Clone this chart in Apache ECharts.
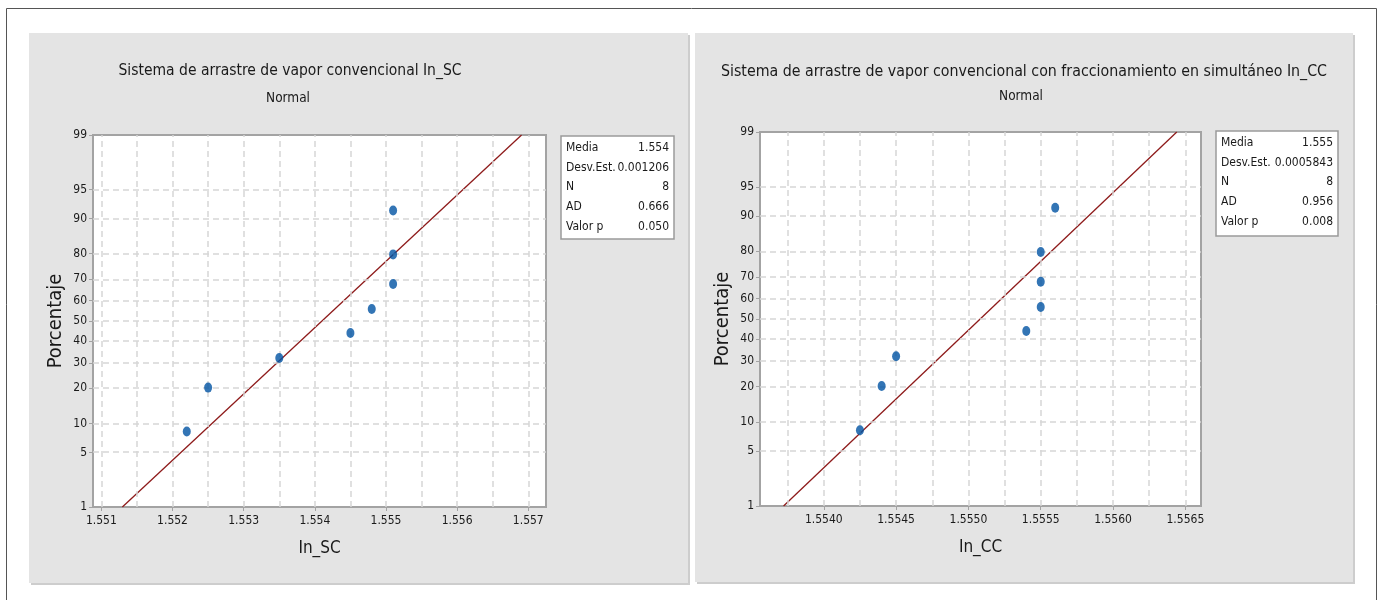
<!DOCTYPE html>
<html><head><meta charset="utf-8">
<script src="https://cdn.jsdelivr.net/npm/echarts@6/dist/echarts.min.js"></script>
<style>html,body{margin:0;padding:0;background:#fff}#c{width:1386px;height:600px}</style>
</head><body><div id="c"></div>
<script>
// ---- data ----
const scValues = [1.5522, 1.5525, 1.5535, 1.5545, 1.5548, 1.5551, 1.5551, 1.5551];
const ccValues = [1.55425, 1.5544, 1.5545, 1.5554, 1.5555, 1.5555, 1.5555, 1.5556];
const pctTicks = [1, 5, 10, 20, 30, 40, 50, 60, 70, 80, 90, 95, 99];
const scTickLabels = [1.551, 1.552, 1.553, 1.554, 1.555, 1.556, 1.557];
const scGridX = [1.551, 1.5515, 1.552, 1.5525, 1.553, 1.5535, 1.554, 1.5545, 1.555, 1.5555, 1.556, 1.5565, 1.557];
const ccTickLabels = [1.5540, 1.5545, 1.5550, 1.5555, 1.5560, 1.5565];
const ccGridX = [1.55375, 1.5540, 1.55425, 1.5545, 1.55475, 1.5550, 1.55525, 1.5555, 1.55575, 1.5560, 1.55625, 1.5565];
const scStatLabels = ['Media', 'Desv.Est.', 'N', 'AD', 'Valor p'];
const scStatValues = ['1.554', '0.001206', '8', '0.666', '0.050'];
const ccStatLabels = ['Media', 'Desv.Est.', 'N', 'AD', 'Valor p'];
const ccStatValues = ['1.555', '0.0005843', '8', '0.956', '0.008'];
const scTitle = 'Sistema de arrastre de vapor convencional In_SC';
const ccTitle = 'Sistema de arrastre de vapor convencional con fraccionamiento en simultáneo In_CC';
const subTitle = 'Normal';
const yName = 'Porcentaje';

// ---- helpers ----
function qnorm(p) {
  const a = [-3.969683028665376e+01, 2.209460984245205e+02, -2.759285104469687e+02, 1.383577518672690e+02, -3.066479806614716e+01, 2.506628277459239e+00];
  const b = [-5.447609879822406e+01, 1.615858368580409e+02, -1.556989798598866e+02, 6.680131188771972e+01, -1.328068155288572e+01];
  const c = [-7.784894002430293e-03, -3.223964580411365e-01, -2.400758277161838e+00, -2.549732539343734e+00, 4.374664141464968e+00, 2.938163982698783e+00];
  const d = [7.784695709041462e-03, 3.224671290700398e-01, 2.445134137142996e+00, 3.754408661907416e+00];
  const pl = 0.02425, ph = 1 - pl;
  let q, r;
  if (p < pl) { q = Math.sqrt(-2 * Math.log(p)); return (((((c[0]*q+c[1])*q+c[2])*q+c[3])*q+c[4])*q+c[5]) / ((((d[0]*q+d[1])*q+d[2])*q+d[3])*q+1); }
  if (p <= ph) { q = p - 0.5; r = q*q; return (((((a[0]*r+a[1])*r+a[2])*r+a[3])*r+a[4])*r+a[5])*q / (((((b[0]*r+b[1])*r+b[2])*r+b[3])*r+b[4])*r+1); }
  q = Math.sqrt(-2 * Math.log(1 - p)); return -(((((c[0]*q+c[1])*q+c[2])*q+c[3])*q+c[4])*q+c[5]) / ((((d[0]*q+d[1])*q+d[2])*q+d[3])*q+1);
}
const zTicks = pctTicks.map(p => qnorm(p / 100));
const zMin = zTicks[0], zMax = zTicks[zTicks.length - 1];
function pctLabel(v) {
  let best = 0, bd = Infinity;
  zTicks.forEach((z, i) => { const dd = Math.abs(z - v); if (dd < bd) { bd = dd; best = i; } });
  return String(pctTicks[best]);
}
function probPoints(vals) {
  const s = vals.slice().sort((a, b) => a - b), n = s.length;
  return s.map((v, i) => [v, qnorm((i + 1 - 0.3) / (n + 0.4))]);
}
function fitLine(vals) {
  const n = vals.length, m = vals.reduce((a, b) => a + b, 0) / n;
  const sd = Math.sqrt(vals.reduce((a, b) => a + (b - m) * (b - m), 0) / (n - 1));
  return [[m + sd * zMin, zMin], [m + sd * zMax, zMax]];
}

const FONT = "'DejaVu Sans Condensed','Open Sans',sans-serif";
const TXT = '#1a1a1a';
const FRAME = '#a3a3a3';
const GRIDC = '#d6d6d6';

function gridLines(xs) {
  const vert = xs.map(v => [{ coord: [v, zMin] }, { coord: [v, zMax] }]);
  return {
    silent: true, symbol: ['none', 'none'], animation: false,
    lineStyle: { type: [6, 4], color: GRIDC, width: 1.5 },
    label: { show: false },
    emphasis: { disabled: true },
    data: zTicks.slice(1, -1).map(v => ({ yAxis: v })).concat(vert)
  };
}

function xAxisCfg(gi, min, max, labels, name, dec) {
  return {
    gridIndex: gi, type: 'value', min: min, max: max,
    name: name, nameLocation: 'middle', nameGap: 33,
    nameTextStyle: { fontFamily: FONT, fontSize: 17, color: TXT },
    axisLine: { show: true, onZero: false, lineStyle: { color: FRAME, width: 2 } },
    axisTick: { show: true, customValues: labels, length: 4, lineStyle: { color: FRAME } },
    axisLabel: { customValues: labels, formatter: v => v.toFixed(dec), fontFamily: FONT, fontSize: 12, color: TXT, margin: 8 },
    splitLine: { show: false }
  };
}
function yAxisCfg(gi) {
  return {
    gridIndex: gi, type: 'value', min: zMin, max: zMax,
    name: yName, nameLocation: 'middle', nameGap: 27,
    nameTextStyle: { fontFamily: FONT, fontSize: 20, color: TXT },
    axisLine: { show: true, onZero: false, lineStyle: { color: FRAME, width: 2 } },
    axisTick: { show: true, customValues: zTicks, length: 4, lineStyle: { color: FRAME } },
    axisLabel: { customValues: zTicks, formatter: pctLabel, fontFamily: FONT, fontSize: 12, color: TXT, margin: 6 },
    splitLine: { show: false }
  };
}

function statsBox(x, y, w, h, labels, values, pitch) {
  const children = [{ type: 'rect', shape: { x: x, y: y, width: w, height: h }, style: { fill: '#fff', stroke: '#9a9a9a', lineWidth: 1.5 } }];
  labels.forEach((l, i) => {
    children.push({ type: 'text', x: x + 5, y: y + 12 + i * pitch, style: { text: l, fontFamily: FONT, fontSize: 12, fill: TXT, align: 'left', verticalAlign: 'middle' } });
    children.push({ type: 'text', x: x + w - 5, y: y + 12 + i * pitch, style: { text: values[i], fontFamily: FONT, fontSize: 12, fill: TXT, align: 'right', verticalAlign: 'middle' } });
  });
  return { type: 'group', z: 50, children: children };
}

const chart = echarts.init(document.getElementById('c'), null, { renderer: 'canvas' });
chart.setOption({
  animation: false,
  backgroundColor: '#fff',
  graphic: [
    { type: 'rect', z: -20, shape: { x: 6.5, y: 8.5, width: 1370, height: 600 }, style: { fill: '#fff', stroke: '#555', lineWidth: 1 } },
    { type: 'rect', z: -19, shape: { x: 31, y: 35, width: 659, height: 550 }, style: { fill: '#cdcdcd' } },
    { type: 'rect', z: -18, shape: { x: 29, y: 33, width: 659, height: 550 }, style: { fill: '#e4e4e4' } },
    { type: 'rect', z: -19, shape: { x: 697, y: 35, width: 658, height: 549 }, style: { fill: '#cdcdcd' } },
    { type: 'rect', z: -18, shape: { x: 695, y: 33, width: 658, height: 549 }, style: { fill: '#e4e4e4' } },
    { type: 'text', z: 50, x: 290, y: 71, style: { text: scTitle, fontFamily: FONT, fontSize: 15.5, fill: TXT, align: 'center', verticalAlign: 'middle' } },
    { type: 'text', z: 50, x: 288, y: 98, style: { text: subTitle, fontFamily: FONT, fontSize: 13.5, fill: TXT, align: 'center', verticalAlign: 'middle' } },
    { type: 'text', z: 50, x: 1024, y: 72, style: { text: ccTitle, fontFamily: FONT, fontSize: 15.8, fill: TXT, align: 'center', verticalAlign: 'middle' } },
    { type: 'text', z: 50, x: 1021, y: 96, style: { text: subTitle, fontFamily: FONT, fontSize: 13.5, fill: TXT, align: 'center', verticalAlign: 'middle' } },
    statsBox(561, 136, 113, 103, scStatLabels, scStatValues, 19.6),
    statsBox(1216, 131, 122, 105, ccStatLabels, ccStatValues, 19.6)
  ],
  grid: [
    { left: 93, top: 135, width: 453, height: 372, show: true, backgroundColor: '#fff', borderColor: FRAME, borderWidth: 2, containLabel: false },
    { left: 760, top: 132, width: 441, height: 374, show: true, backgroundColor: '#fff', borderColor: FRAME, borderWidth: 2, containLabel: false }
  ],
  xAxis: [
    xAxisCfg(0, 1.550882, 1.557249, scTickLabels, 'In_SC', 3),
    xAxisCfg(1, 1.553559, 1.556608, ccTickLabels, 'In_CC', 4)
  ],
  yAxis: [yAxisCfg(0), yAxisCfg(1)],
  series: [
    { type: 'line', xAxisIndex: 0, yAxisIndex: 0, data: [], z: 1, markLine: gridLines(scGridX) },
    { type: 'line', xAxisIndex: 1, yAxisIndex: 1, data: [], z: 1, markLine: gridLines(ccGridX) },
    { type: 'line', xAxisIndex: 0, yAxisIndex: 0, data: fitLine(scValues), symbol: 'none', z: 3, lineStyle: { color: '#8e1b1b', width: 1.3 } },
    { type: 'line', xAxisIndex: 1, yAxisIndex: 1, data: fitLine(ccValues), symbol: 'none', z: 3, lineStyle: { color: '#8e1b1b', width: 1.3 } },
    { type: 'scatter', xAxisIndex: 0, yAxisIndex: 0, data: probPoints(scValues), symbol: 'circle', symbolSize: [8, 10], z: 5, itemStyle: { color: '#0052a3' } },
    { type: 'scatter', xAxisIndex: 1, yAxisIndex: 1, data: probPoints(ccValues), symbol: 'circle', symbolSize: [8, 10], z: 5, itemStyle: { color: '#0052a3' } }
  ]
});
</script>
</body></html>
